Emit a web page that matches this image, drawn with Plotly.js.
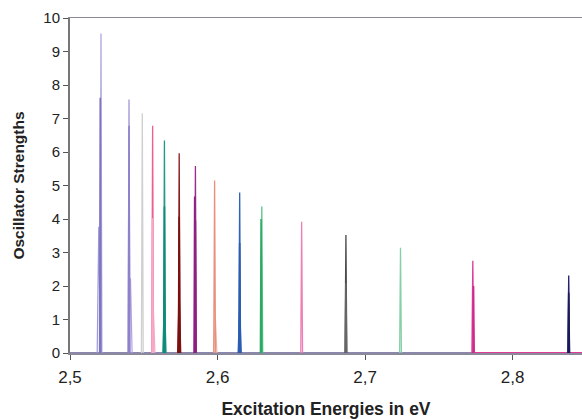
<!DOCTYPE html>
<html><head><meta charset="utf-8">
<script src="https://cdn.plot.ly/plotly-3.0.1.min.js"></script>
<style>html,body{margin:0;padding:0;background:#fff}#chart{width:582px;height:419px}</style>
</head><body><div id="chart"></div>
<script>
// Main peaks
const energies  = [2.521, 2.540, 2.549, 2.556, 2.564, 2.574, 2.585, 2.598, 2.615, 2.630, 2.657, 2.687, 2.724, 2.773, 2.838];
const strengths = [9.54, 7.57, 7.16, 6.78, 6.34, 5.96, 5.58, 5.15, 4.79, 4.37, 3.92, 3.52, 3.14, 2.75, 2.31];
const colors    = ['#a9a9e0', '#a596d6', '#cfcfcf', '#ec5f92', '#1f9a88', '#8c1c1c', '#9c2c8c', '#e8907c', '#2f62b8', '#5cc48a', '#ee7fb4', '#4a4a4a', '#86d0a8', '#dc3d96', '#22226e'];
// Overlapping inner peaks (darker / thicker parts)
const innerEnergies  = [2.5205, 2.5400, 2.5560, 2.5640, 2.5740, 2.5845, 2.5850, 2.6150, 2.6295, 2.6870, 2.7735, 2.8380];
const innerStrengths = [7.62, 6.78, 4.02, 4.37, 4.07, 4.67, 3.95, 3.28, 4.00, 2.09, 2.00, 1.80];
const innerColors    = ['#7f74c2', '#8f80cc', '#f7a9c6', '#0e8a78', '#7a0f0f', '#8e1f84', '#8e1f84', '#2a5cb0', '#2daa62', '#666666', '#d02a88', '#1a1a5a'];
const lowEnergies  = [2.5195, 2.5410, 2.5565, 2.5640, 2.5740, 2.5985, 2.6150];
const lowStrengths = [3.77, 2.23, 1.33, 1.80, 1.83, 1.05, 1.38];
const lowColors    = ['#9a9ad8', '#b0a4dc', '#f4b2c9', '#138e7c', '#7a1212', '#f0b4a4', '#2a5cb0'];
// Baseline segments
const baseX1 = [2.5, 2.7725];
const baseX2 = [2.7725, 2.86];
const baseY = [0, 0];

const hw = 0.0006;
const traces = [];
function spike(e, h, c, w, lw) {
  traces.push({x: [e - w, e, e + w], y: [0, h, 0], mode: 'lines', type: 'scatter',
    line: {color: c, width: lw}, hoverinfo: 'skip', showlegend: false});
}
traces.push({x: baseX1, y: baseY, mode: 'lines', line: {color: '#8c86b4', width: 2}, hoverinfo: 'skip', showlegend: false});
traces.push({x: baseX2, y: baseY, mode: 'lines', line: {color: '#dc3d96', width: 2}, hoverinfo: 'skip', showlegend: false});
for (let i = 0; i < lowEnergies.length; i++) spike(lowEnergies[i], lowStrengths[i], lowColors[i], hw * 1.8, 1.2);
for (let i = 0; i < energies.length; i++) spike(energies[i], strengths[i], colors[i], hw, 1.3);
for (let i = 0; i < innerEnergies.length; i++) spike(innerEnergies[i], innerStrengths[i], innerColors[i], hw * 0.7, 1.6);

const layout = {
  width: 582, height: 419,
  margin: {l: 70, r: 0, t: 18, b: 66},
  paper_bgcolor: '#fff', plot_bgcolor: '#fff',
  separators: ',.',
  font: {family: 'Liberation Sans, Arial, sans-serif', size: 15, color: '#222'},
  showlegend: false,
  hovermode: false,
  xaxis: {
    range: [2.5, 2.847], tickvals: [2.5, 2.6, 2.7, 2.8], ticktext: ['2,5', '2,6', '2,7', '2,8'],
    showgrid: false, zeroline: false, showline: true, linecolor: '#8a8a9a', linewidth: 1.5, mirror: true,
    ticks: 'outside', ticklen: 5, tickcolor: '#555', tickwidth: 1, ticklabelstandoff: 3,
    tickfont: {size: 17, color: '#222'},
    title: {text: '<b>Excitation Energies in eV</b>', font: {size: 17.5, color: '#222'}, standoff: 22}
  },
  yaxis: {
    range: [0, 10], dtick: 1,
    showgrid: false, zeroline: false, showline: true, linecolor: '#777', linewidth: 2,
    ticks: 'outside', ticklen: 5, tickcolor: '#555', tickwidth: 1,
    tickfont: {size: 15, color: '#222'},
    title: {text: '<b>Oscillator Strengths</b>', font: {size: 15.5, color: '#222'}, standoff: 15}
  }
};
Plotly.newPlot('chart', traces, layout, {displayModeBar: false, staticPlot: true});
</script></body></html>
